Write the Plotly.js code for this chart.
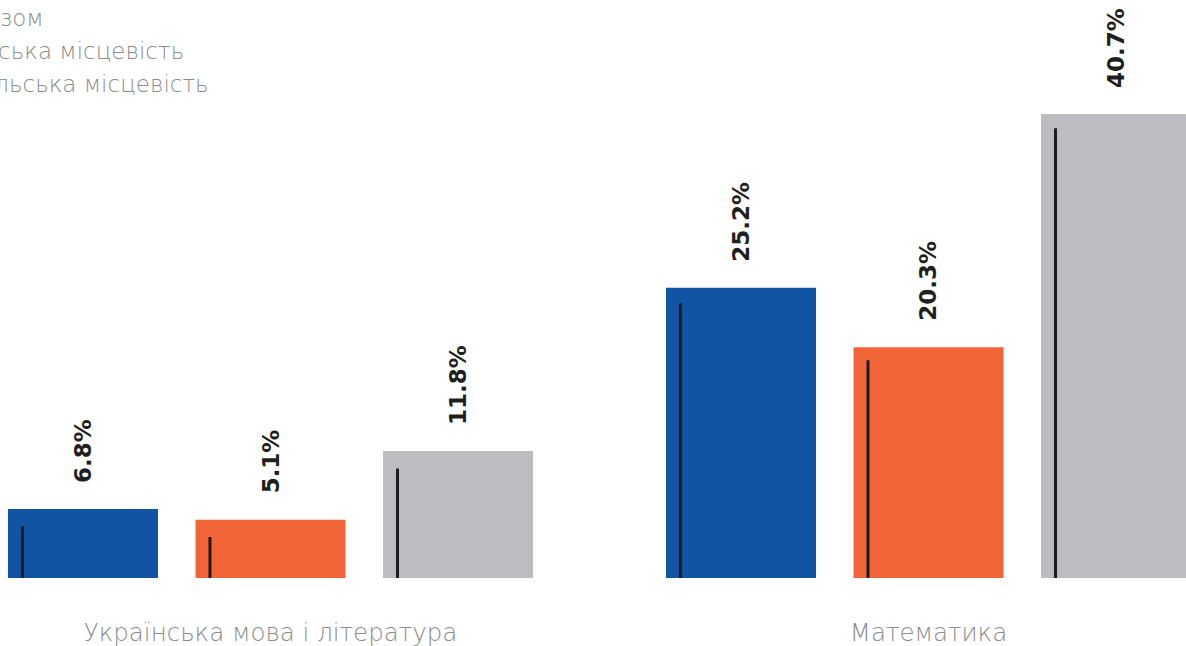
<!DOCTYPE html>
<html><head><meta charset="utf-8">
<script src="https://cdn.plot.ly/plotly-3.0.1.min.js"></script>
<style>html,body{margin:0;padding:0;background:#fff;overflow:hidden}#chart{width:1186px;height:646px}</style>
</head><body><div id="chart"></div>
<script>
// ---- data ----
const categories = ['Українська мова і література', 'Математика'];
const seriesNames = ['Разом', 'Міська місцевість', 'Сільська місцевість'];
const totalValues = [6.05, 25.45];
const urbanValues = [5.1, 20.25];
const ruralValues = [11.15, 40.7];
const totalLabels = ['6.8%', '25.2%'];
const urbanLabels = ['5.1%', '20.3%'];
const ruralLabels = ['11.8%', '40.7%'];
const totalLineTops = [4.55, 24.1];
const urbanLineTops = [3.6, 19.1];
const ruralLineTops = [9.6, 39.45];
const colors = ['#1254a4', '#f26539', '#bcbdc1'];

// ---- styling / layout constants ----
const BARGAP = 0.145, BARGROUPGAP = 0.2;
const XRANGE = [-0.4111, 1.3913];
const YRANGE = [0, 50.7];
const LINE_INSET = 0.022;
const tickFont = {family: 'DejaVu Sans ExtraLight, DejaVu Sans', size: 24.5, color: '#8c8c8c', weight: 200};
const legendFont = {family: 'DejaVu Sans ExtraLight, DejaVu Sans', size: 23, color: '#8c8c8c', weight: 200};

const valuesAll = [totalValues, urbanValues, ruralValues];
const labelsAll = [totalLabels, urbanLabels, ruralLabels];
const lineTopsAll = [totalLineTops, urbanLineTops, ruralLineTops];

const slot = (1 - BARGAP) / 3;
const barW = slot * (1 - BARGROUPGAP);

const traces = [];
valuesAll.forEach((vals, k) => {
  traces.push({
    type: 'bar', x: categories, y: vals, name: seriesNames[k],
    marker: {color: colors[k], line: {width: 0}},
    hoverinfo: 'skip'
  });
});
const annotations = [];
valuesAll.forEach((vals, k) => {
  const lx = [], ly = [];
  categories.forEach((c, i) => {
    const center = i + (k - 1) * slot;
    const xl = center - barW / 2 + LINE_INSET;
    lx.push(xl, xl, null);
    ly.push(0, lineTopsAll[k][i], null);
    annotations.push({
      xref: 'x2', yref: 'y', x: center, y: vals[i],
      text: labelsAll[k][i], showarrow: false, textangle: -90,
      xanchor: 'center', yanchor: 'bottom', yshift: 24,
      font: {family: 'DejaVu Sans', size: 23, color: '#1f1f1f', weight: 700}
    });
  });
  traces.push({
    type: 'scatter', mode: 'lines', x: lx, y: ly, xaxis: 'x2', yaxis: 'y',
    line: {color: '#1c1c1c', width: 3}, showlegend: false, hoverinfo: 'skip', connectgaps: false
  });
});

const layout = {
  width: 1186, height: 646,
  margin: {l: 0, r: 0, t: 0, b: 68, autoexpand: false},
  paper_bgcolor: '#ffffff', plot_bgcolor: '#ffffff',
  barmode: 'group', bargap: BARGAP, bargroupgap: BARGROUPGAP,
  showlegend: true,
  legend: {x: -0.0575, xanchor: 'left', y: 1.008, yanchor: 'top', font: legendFont, bgcolor: 'rgba(0,0,0,0)', traceorder: 'normal'},
  xaxis: {type: 'category', range: XRANGE, showgrid: false, zeroline: false, showline: false,
          ticks: 'outside', ticklen: 33, tickcolor: 'rgba(0,0,0,0)', tickfont: tickFont, fixedrange: true},
  xaxis2: {overlaying: 'x', range: XRANGE, visible: false, fixedrange: true},
  yaxis: {range: YRANGE, visible: false, showgrid: false, zeroline: false, fixedrange: true},
  annotations: annotations
};
Plotly.newPlot('chart', traces, layout, {staticPlot: true, displayModeBar: false});
</script></body></html>
